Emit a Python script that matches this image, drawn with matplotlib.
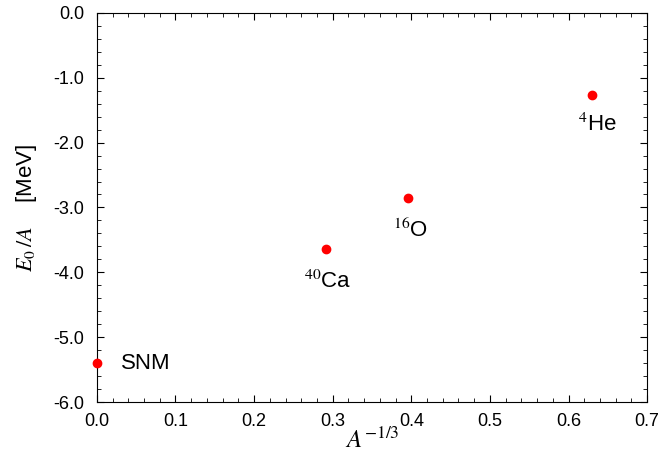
import numpy as np
import matplotlib
matplotlib.use("Agg")
from matplotlib import pyplot as plt
from matplotlib.ticker import MultipleLocator, FormatStrFormatter

plt.rcParams['font.family'] = ['Liberation Sans', 'DejaVu Sans']
plt.rcParams['mathtext.fontset'] = 'stix'
plt.rcParams['axes.unicode_minus'] = False

# data
names = ["SNM", "$^{40}$Ca", "$^{16}$O", "$^{4}$He"]
x_vals = [0.0, 0.292, 0.396, 0.630]
e_vals = [-5.40, -3.64, -2.86, -1.27]
# label anchor (data coords)
lab_x = [0.062, 0.294, 0.399, 0.637]
lab_y = [-5.40, -4.15, -3.35, -1.73]

fig = plt.figure()
fig.set_dpi(100)
fig.set_size_inches(6.59, 4.57)
ax = fig.add_axes([0.147, 0.120, 0.835, 0.852])

ax.plot(x_vals, e_vals, 'o', color='red', markersize=6, clip_on=False, zorder=5)
for nm, lx, ly in zip(names, lab_x, lab_y):
    ax.text(lx, ly, nm, fontsize=16, ha='center', va='center')

ax.set_xlim(0, 0.7)
ax.set_ylim(-6.0, 0.0)
ax.xaxis.set_major_locator(MultipleLocator(0.1))
ax.xaxis.set_minor_locator(MultipleLocator(0.02))
ax.yaxis.set_major_locator(MultipleLocator(1.0))
ax.yaxis.set_minor_locator(MultipleLocator(0.2))
ax.xaxis.set_major_formatter(FormatStrFormatter('%.1f'))
ax.yaxis.set_major_formatter(FormatStrFormatter('%.1f'))
ax.tick_params(which='both', direction='in', top=True, right=True, labelsize=13)
ax.tick_params(which='major', length=5)
ax.tick_params(axis='y', which='major', pad=9)
ax.tick_params(axis='x', which='major', pad=8)
ax.tick_params(which='minor', length=3)

ax.set_xlabel(r"$A^{-1/3}$", fontsize=18, labelpad=-2)
ax.set_ylabel(r"$E_0\,/A$    [MeV]", fontsize=16, labelpad=10)

fig.savefig("out.png", dpi=100)
